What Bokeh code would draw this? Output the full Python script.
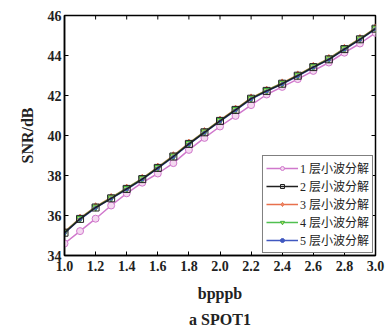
import math
from bokeh.plotting import figure
from bokeh.models import (Legend, LegendItem, Title, FixedTicker,
                          Range1d, NumeralTickFormatter)
from bokeh.embed import file_html
from bokeh.resources import INLINE

x = [1.0, 1.1, 1.2, 1.3, 1.4, 1.5, 1.6, 1.7, 1.8, 1.9, 2.0,
     2.1, 2.2, 2.3, 2.4, 2.5, 2.6, 2.7, 2.8, 2.9, 3.0]
s1 = [34.60, 35.22, 35.84, 36.50, 37.11, 37.64, 38.10, 38.62, 39.28, 39.88, 40.45,
      40.98, 41.52, 42.05, 42.43, 42.82, 43.23, 43.65, 44.14, 44.60, 45.13]
s2 = [35.14, 35.83, 36.40, 36.86, 37.33, 37.82, 38.38, 38.95, 39.58, 40.16, 40.73,
      41.28, 41.84, 42.23, 42.59, 42.99, 43.42, 43.81, 44.32, 44.81, 45.34]
s3 = [35.18, 35.87, 36.44, 36.90, 37.37, 37.86, 38.42, 38.99, 39.62, 40.20, 40.77,
      41.32, 41.88, 42.27, 42.63, 43.03, 43.46, 43.85, 44.36, 44.85, 45.38]
s4 = [35.16, 35.85, 36.42, 36.88, 37.35, 37.84, 38.40, 38.97, 39.60, 40.18, 40.75,
      41.30, 41.86, 42.25, 42.61, 43.01, 43.44, 43.83, 44.34, 44.83, 45.36]
s5 = [35.12, 35.81, 36.38, 36.84, 37.31, 37.80, 38.36, 38.93, 39.56, 40.14, 40.71,
      41.26, 41.82, 42.21, 42.57, 42.97, 43.40, 43.79, 44.30, 44.79, 45.32]
labels = ["1 层小波分解", "2 层小波分解", "3 层小波分解", "4 层小波分解", "5 层小波分解"]
x_ticks = [1.0, 1.2, 1.4, 1.6, 1.8, 2.0, 2.2, 2.4, 2.6, 2.8, 3.0]
y_ticks = [34, 36, 38, 40, 42, 44, 46]
x_lo, x_hi = 1.0, 3.0
y_lo, y_hi = 34, 46

SERIF = "Liberation Serif"

p = figure(width=389, height=331, x_range=Range1d(x_lo, x_hi), y_range=Range1d(y_lo, y_hi),
           output_backend="svg", toolbar_location=None,
           min_border_left=64, min_border_right=14, min_border_top=15, min_border_bottom=73)
p.grid.visible = False
p.outline_line_color = "black"
p.outline_line_width = 1.5
p.background_fill_color = "white"

for ax in (p.xaxis[0], p.yaxis[0]):
    ax.major_tick_in = 4
    ax.major_tick_out = 0
    ax.minor_tick_line_color = None
    ax.axis_line_color = "black"
    ax.axis_line_width = 1.5
    ax.major_tick_line_color = "black"
    ax.major_label_text_font = SERIF
    ax.major_label_text_font_style = "bold"
    ax.major_label_text_font_size = "14px"
    ax.major_label_text_color = "#222222"
    ax.major_label_standoff = 5
    ax.axis_label_text_font = SERIF
    ax.axis_label_text_font_style = "bold"
    ax.axis_label_text_font_size = "16px"
    ax.axis_label_text_color = "#222222"
    ax.axis_label_standoff = 11
p.yaxis.axis_label_standoff = 9
p.yaxis.major_label_standoff = 3

p.xaxis.ticker = FixedTicker(ticks=x_ticks)
p.xaxis.formatter = NumeralTickFormatter(format="0.0")
p.yaxis.ticker = FixedTicker(ticks=y_ticks)
p.xaxis.axis_label = "bpppb"
p.yaxis.axis_label = "SNR/dB"

# inward ticks on the top and right edges of the box
p.ray(x=x_ticks, y=[y_hi] * len(x_ticks), length=4, length_units="screen",
      angle=-math.pi / 2, line_color="black", line_width=1)
p.ray(x=[x_hi] * len(y_ticks), y=y_ticks, length=4, length_units="screen",
      angle=math.pi, line_color="black", line_width=1)

p.add_layout(Title(text="a SPOT1", align="center", text_font=SERIF,
                   text_font_style="bold", text_font_size="16px",
                   text_color="#222222", offset=0, standoff=8), "below")

# series renderers
l1 = p.line(x, s1, line_color="#d078cc", line_width=1.5)
m1 = p.scatter(x, s1, marker="circle", size=7, line_color="#d078cc",
               fill_color="#f4d8f0", line_width=1)
l3 = p.line(x, s3, line_color="#e8704c", line_width=1.5)
m3 = p.scatter(x, s3, marker="diamond", size=8, line_color="#e8704c",
               fill_color="#f09070", line_width=1)
l4 = p.line(x, s4, line_color="#50c050", line_width=1.5)
m4 = p.scatter(x, s4, marker="inverted_triangle", size=7, line_color="#40b040",
               fill_color="#c8e860", line_width=1)
l5 = p.line(x, s5, line_color="#4058c0", line_width=1.5)
m5 = p.scatter(x, s5, marker="circle", size=3, line_color="#4058c0",
               fill_color="#4058c0")
l2 = p.line(x, s2, line_color="#202020", line_width=1.5)
m2 = p.scatter(x, s2, marker="square", size=7, line_color="#202020",
               fill_color=None, line_width=1)

legend = Legend(items=[
    LegendItem(label=labels[0], renderers=[l1, m1]),
    LegendItem(label=labels[1], renderers=[l2, m2]),
    LegendItem(label=labels[2], renderers=[l3, m3]),
    LegendItem(label=labels[3], renderers=[l4, m4]),
    LegendItem(label=labels[4], renderers=[l5, m5]),
], location="bottom_right")
legend.label_text_font = "'Liberation Serif', 'Noto Sans CJK SC'"
legend.label_text_font_size = "12px"
legend.label_text_color = "#222222"
legend.glyph_width = 32
legend.glyph_height = 10
legend.label_height = 10
legend.label_text_line_height = 0.7
legend.label_standoff = 2
legend.spacing = 0
legend.padding = 3
legend.margin = 2
legend.border_line_color = "black"
legend.border_line_width = 1
legend.background_fill_color = "white"
legend.background_fill_alpha = 1
p.add_layout(legend, "center")

open("out.html", "w").write(file_html(p, INLINE))
